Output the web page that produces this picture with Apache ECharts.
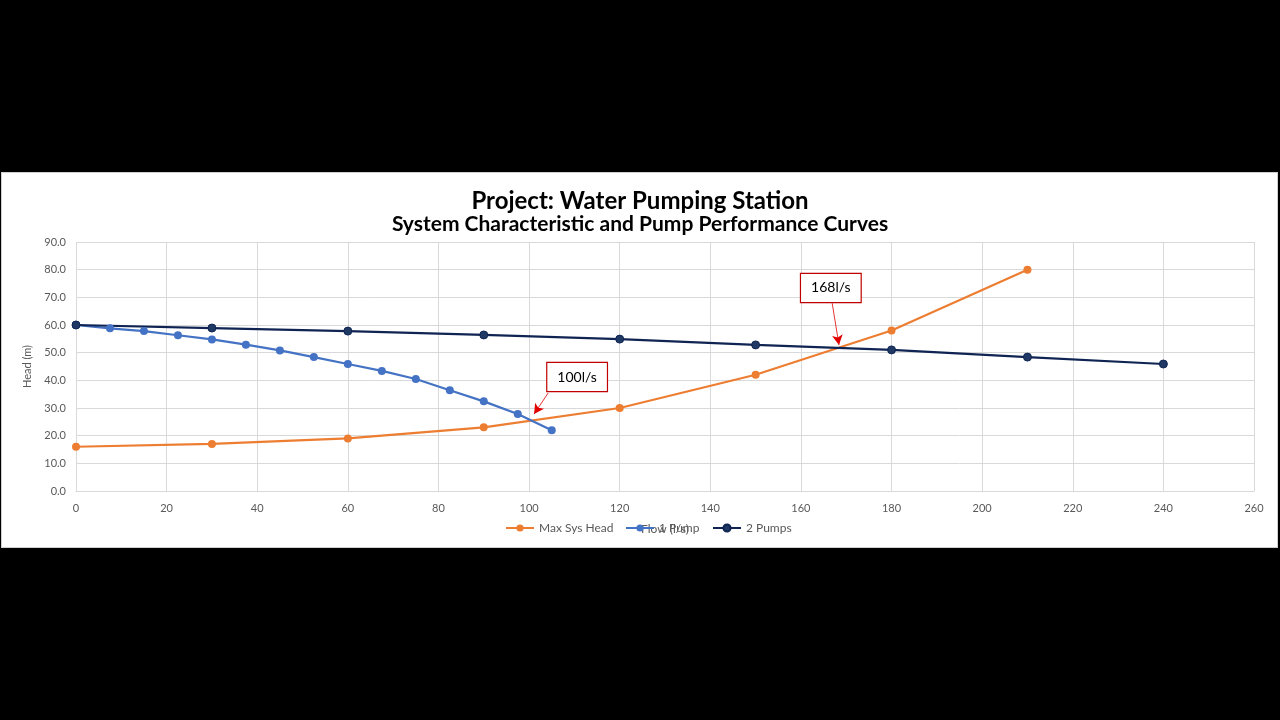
<!DOCTYPE html>
<html>
<head>
<meta charset="utf-8">
<script src="https://cdn.jsdelivr.net/npm/echarts@6/dist/echarts.min.js"></script>
<style>
html,body{margin:0;padding:0;background:#000;width:1280px;height:720px;overflow:hidden;}
#panel{position:absolute;left:1px;top:172px;width:1277px;height:376px;background:#fff;border:1px solid #d0d0d0;box-sizing:border-box;}
#chart{position:absolute;left:0;top:0;width:1280px;height:720px;}
</style>
</head>
<body>
<div id="panel"></div>
<div id="chart"></div>
<script>
// ---- data ----
const sysFlow = [0, 30, 60, 90, 120, 150, 180, 210];
const sysHead = [16, 17, 19, 23, 30, 42, 58, 80];

const pump1Flow = [0, 7.5, 15, 22.5, 30, 37.5, 45, 52.5, 60, 67.5, 75, 82.5, 90, 97.5, 105];
const pump1Head = [60, 58.8, 57.8, 56.3, 54.8, 52.9, 50.8, 48.4, 45.9, 43.4, 40.5, 36.4, 32.4, 27.8, 22.0];

const pump2Flow = [0, 30, 60, 90, 120, 150, 180, 210, 240];
const pump2Head = [60, 58.9, 57.8, 56.4, 54.9, 52.8, 51, 48.4, 45.9];

const seriesNames = ['Max Sys Head', '1 Pump', '2 Pumps'];

// annotations (in data units)
const annotText = ['100l/s', '168l/s'];
const annotBox = [[110.6, 41.2], [166.6, 73.4]];
const annotFrom = [[104.2, 35.4], [166.9, 67.9]];
const annotTo = [[101.1, 27.8], [168.4, 52.8]];

const FONT = 'Lato, "Open Sans", sans-serif';
const zip = (xs, ys) => xs.map((x, i) => [x, ys[i]]);

const chart = echarts.init(document.getElementById('chart'), null, {renderer: 'canvas'});

const colors = ['#ED7D31', '#4472C4', '#0F2452'];

const annotSeries = {
  type: 'line',
  data: [],
  silent: true,
  markPoint: {
    symbol: 'rect',
    symbolSize: 1,
    itemStyle: {color: 'rgba(0,0,0,0)'},
    label: {
      show: true,
      position: 'inside',
      color: '#000',
      fontSize: 14,
      fontFamily: FONT,
      backgroundColor: '#fff',
      borderColor: '#C00000',
      borderWidth: 1.2,
      padding: [7, 10, 7, 10],
      formatter: p => p.name
    },
    data: annotText.map((t, i) => ({name: t, coord: annotBox[i]}))
  },
  markLine: {
    silent: true,
    symbol: ['none', 'arrow'],
    symbolSize: [8, 10],
    label: {show: false},
    lineStyle: {color: '#E00000', width: 0.8, type: 'solid'},
    data: annotFrom.map((f, i) => [{coord: f}, {coord: annotTo[i]}])
  }
};

const legendLeft = [500, 620, 707];

chart.setOption({
  animation: false,
  backgroundColor: 'transparent',
  color: colors,
  title: [
    {text: 'Project: Water Pumping Station', left: 'center', top: 184,
     textStyle: {fontFamily: FONT, fontSize: 24, fontWeight: 'bold', color: '#000'}},
    {text: 'System Characteristic and Pump Performance Curves', left: 'center', top: 209,
     textStyle: {fontFamily: FONT, fontSize: 21, fontWeight: 'bold', color: '#000'}}
  ],
  legend: seriesNames.map((n, i) => ({
    data: [n],
    left: legendLeft[i],
    top: 517,
    itemWidth: 28,
    itemHeight: 9,
    itemGap: 0,
    textStyle: {fontFamily: FONT, fontSize: 12, color: '#595959'}
  })),
  grid: {left: 76, right: 26, top: 242, bottom: 229, containLabel: false},
  xAxis: {
    type: 'value', min: 0, max: 260, interval: 20,
    name: 'Flow (l/s)', nameLocation: 'middle', nameGap: 32,
    nameTextStyle: {fontFamily: FONT, fontSize: 12, color: '#595959'},
    axisLine: {show: true, lineStyle: {color: '#d9d9d9'}},
    axisTick: {show: false},
    axisLabel: {fontFamily: FONT, fontSize: 11, color: '#595959', margin: 12},
    splitLine: {show: true, lineStyle: {color: '#d9d9d9', width: 1}}
  },
  yAxis: {
    type: 'value', min: 0, max: 90, interval: 10,
    name: 'Head (m)', nameLocation: 'middle', nameGap: 41,
    nameTextStyle: {fontFamily: FONT, fontSize: 11, color: '#595959'},
    axisLine: {show: false},
    axisTick: {show: false},
    axisLabel: {fontFamily: FONT, fontSize: 11, color: '#595959', margin: 10,
                formatter: v => v.toFixed(1)},
    splitLine: {show: true, lineStyle: {color: '#d9d9d9', width: 1}}
  },
  series: [
    {name: seriesNames[0], type: 'line', data: zip(sysFlow, sysHead),
     symbol: 'circle', symbolSize: 8, lineStyle: {width: 2.2, color: colors[0]},
     itemStyle: {color: colors[0]}},
    {name: seriesNames[1], type: 'line', data: zip(pump1Flow, pump1Head),
     symbol: 'circle', symbolSize: 8, lineStyle: {width: 2.2, color: colors[1]},
     itemStyle: {color: colors[1]}},
    {name: seriesNames[2], type: 'line', data: zip(pump2Flow, pump2Head),
     symbol: 'circle', symbolSize: 8, lineStyle: {width: 2.2, color: colors[2]},
     itemStyle: {color: '#1F3864', borderColor: colors[2], borderWidth: 1}},
    annotSeries
  ]
});
</script>
</body>
</html>
